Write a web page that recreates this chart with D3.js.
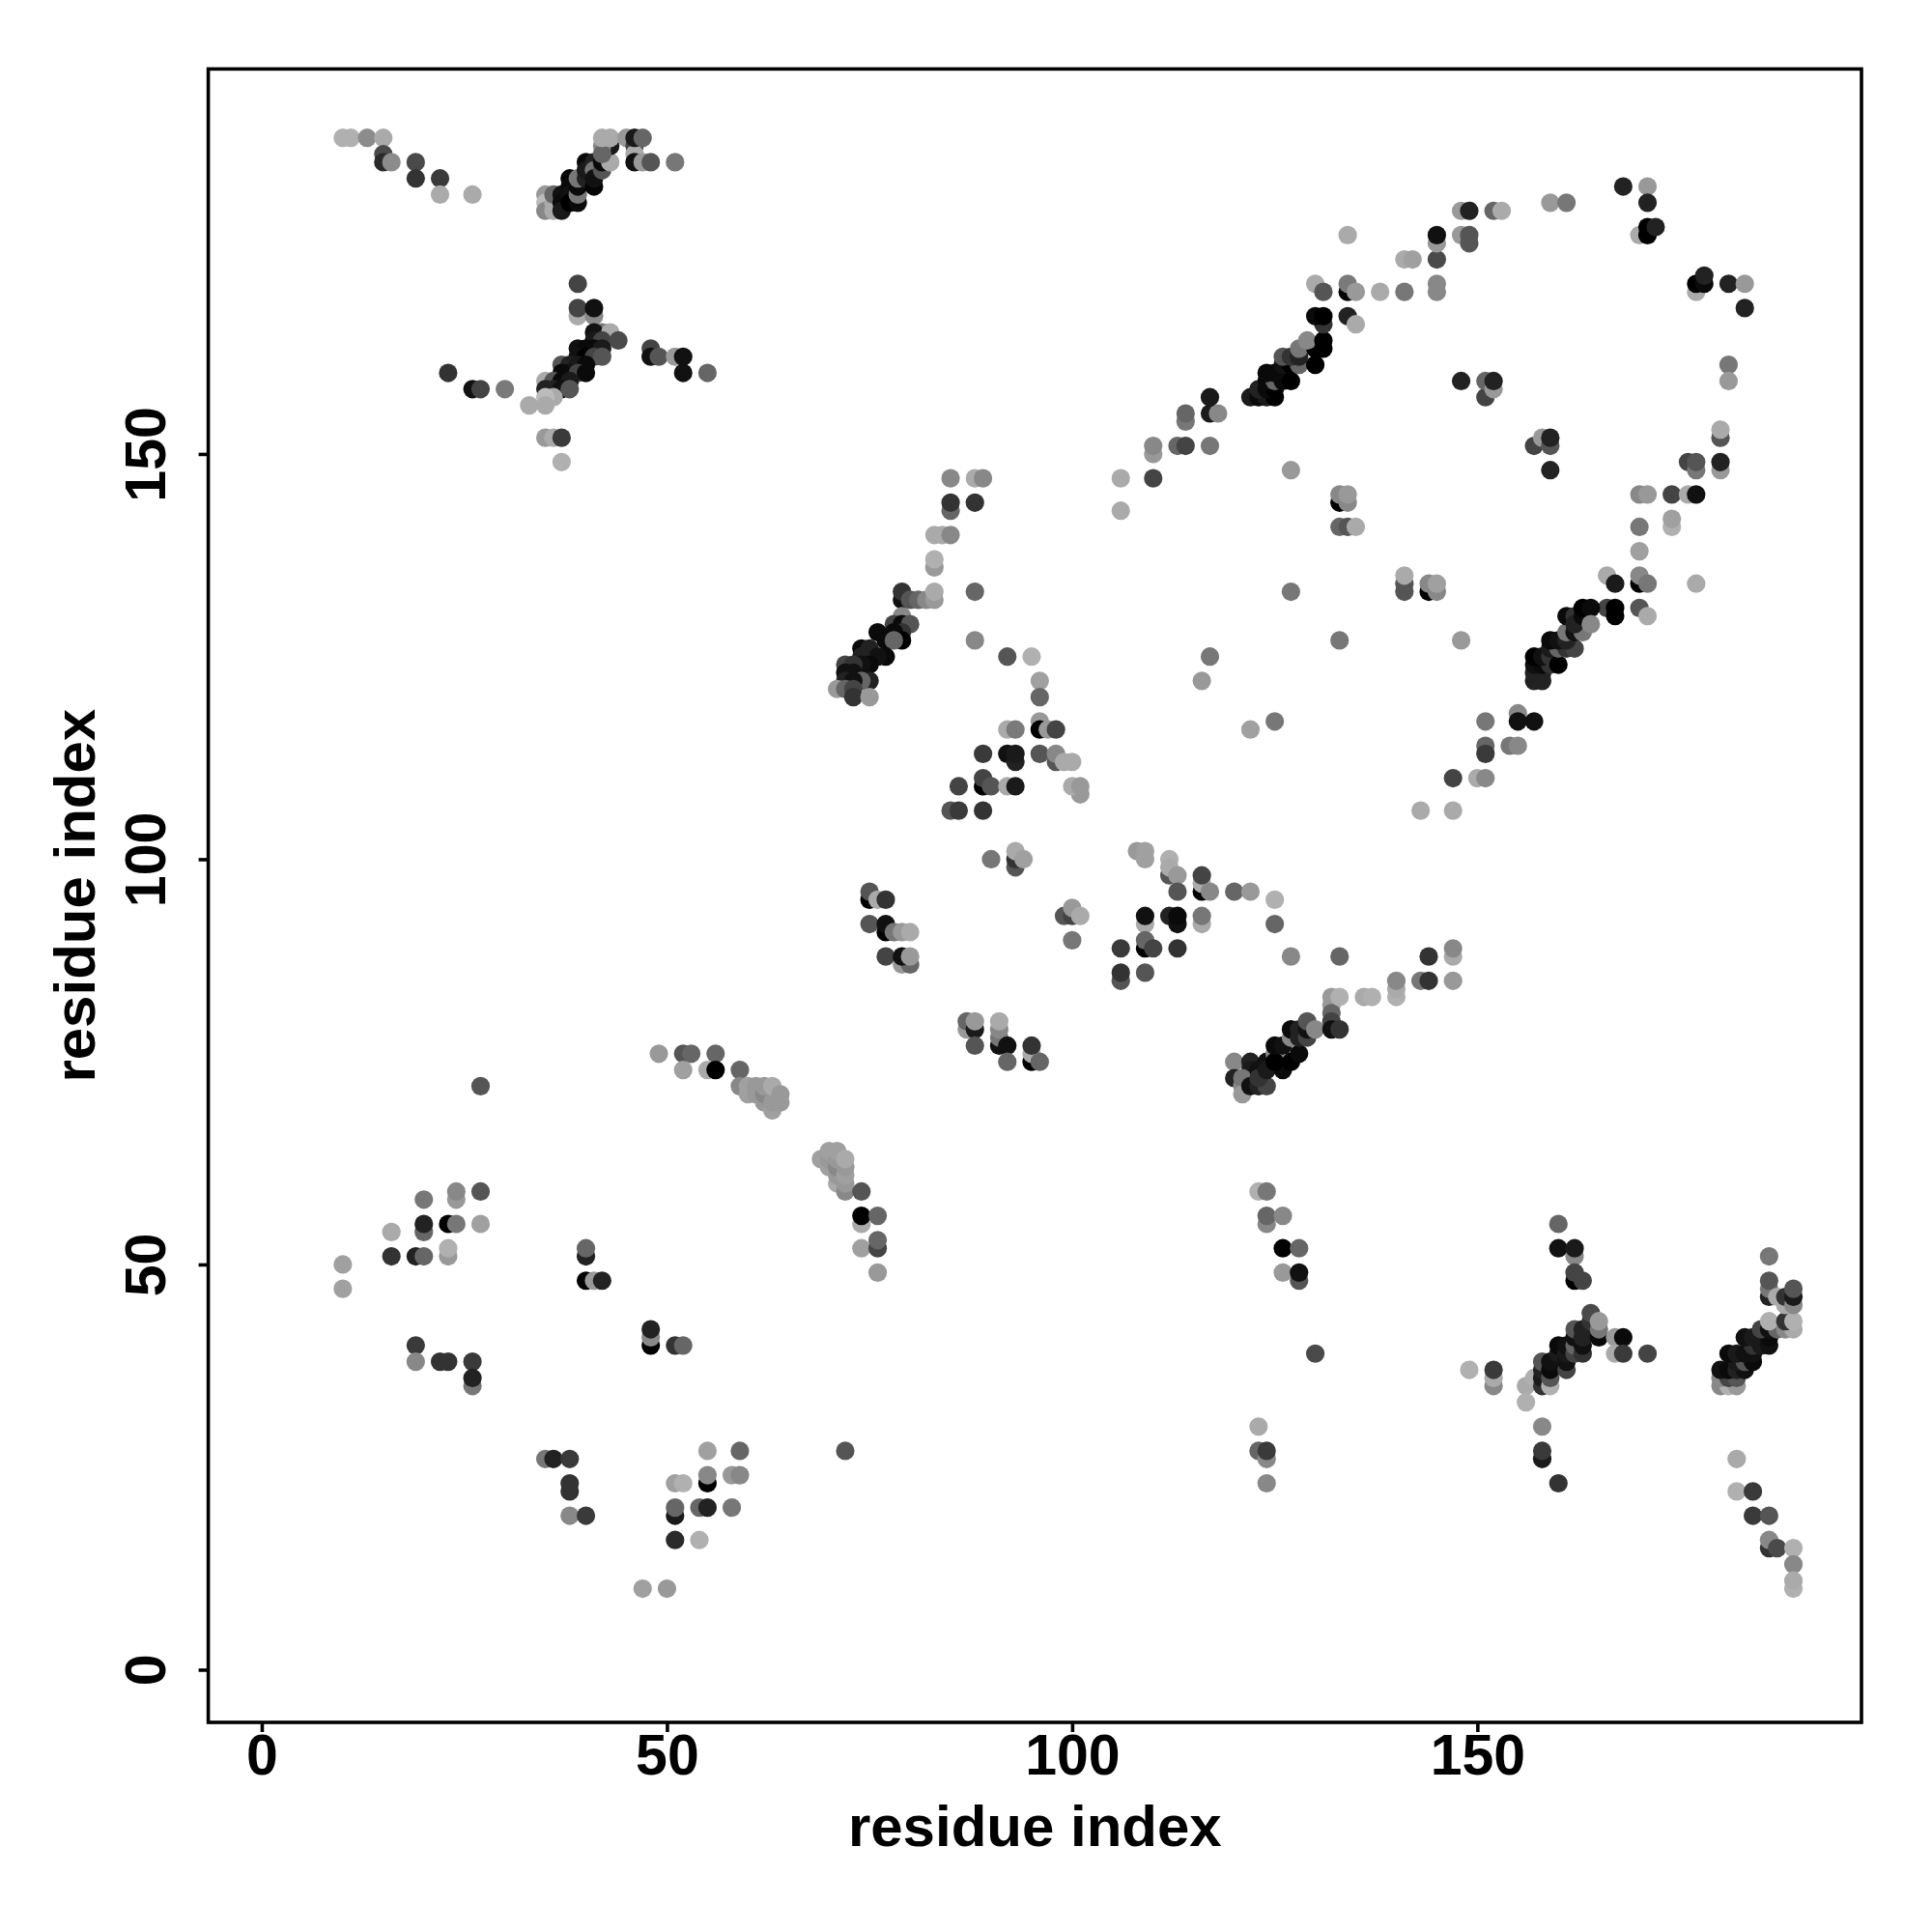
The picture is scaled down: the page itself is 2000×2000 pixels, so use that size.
<!DOCTYPE html>
<html><head><meta charset="utf-8">
<script src="https://cdn.jsdelivr.net/npm/d3@7"></script>
<style>html,body{margin:0;padding:0;background:#fff}</style></head>
<body><svg id="c" width="2000" height="2000"></svg>
<script>
// each contact: [residue x, residue y, grey level]
const topLeft=[[10,189,176],[11,189,176],[13,189,140],[15,189,170],[15,187,74],[15,186,42],[16,186,140],[19,186,74],[19,184,51],[22,184,58],[22,182,170],[26,182,170],
[35,182,153],[35,181,187],[35,180,136],[36,180,170],[36,181,170],[36,182,102],[37,182,17],[37,181,10],[37,180,26],[38,184,5],[38,183,10],[38,182,17],[38,181,0],[39,181,10],[39,182,119],[39,183,10],[39,184,119],[40,184,34],[40,186,10],[40,185,26],[41,183,5],[41,186,34],[41,185,119],[41,184,17],[42,185,85],[42,186,10],[43,186,170],[43,188,26],[42,188,136],[42,187,102],[42,189,170],[43,189,170],
[45,189,153],[46,188,68],[46,187,170],[46,186,17],[46,189,26],[47,189,102],[47,186,153],[48,186,85],[51,186,119]];
const midLeft=[[39,171,68],[39,167,170],[39,168,68],[41,167,136],[41,168,17],[42,165,119],[41,165,17],[43,165,170],[41,164,26],[42,164,68],[44,164,74],[39,163,17],[40,163,10],[41,163,10],[42,163,26],[39,162,17],[40,162,0],[41,162,68],[42,162,85],[37,161,85],[38,161,34],[39,161,26],[40,161,10],[38,160,17],[37,160,10],[39,160,68],[40,160,10],[35,159,170],[36,159,85],[37,159,10],[38,159,26],
[35,158,34],[36,158,34],[37,158,17],[38,158,85],[36,157,170],[35,157,187],[33,156,170],[35,156,170],[23,160,51],[26,158,17],[27,158,68],[30,158,122],[35,152,153],[36,152,170],[37,152,58],[37,149,176],[48,163,68],[48,162,17],[49,162,85],[51,162,153],[52,162,17],[52,160,17],[55,160,102]];
const midBand=[[85,147,136],[88,147,170],[89,147,136],[85,143,102],[85,144,51],[88,144,51],[83,140,170],[84,140,170],[85,140,136],[83,136,153],[83,137,176],[88,133,102],[79,132,17],[79,133,51],[80,132,85],[81,132,102],[82,132,136],[83,132,153],[83,133,170],
[79,130,136],[78,129,68],[79,129,10],[80,129,85],[79,128,51],[78,128,10],[76,128,10],[77,127,10],[79,127,0],[78,127,102],[74,126,10],[75,126,34],[77,125,10],[76,125,17],[74,125,34],[75,124,10],[74,124,17],[72,124,68],[73,124,51],[72,123,17],[73,123,17],[75,122,34],[74,122,102],[72,122,34],[73,122,17],[71,121,153],[72,121,102],[73,121,68],[73,120,51],[75,120,153],[88,127,136]];
const upperRight=[[106,147,170],[110,147,68],[106,143,170],[110,150,153],[110,151,136],[113,151,102],[114,151,68],[117,151,119],[114,154,119],[114,155,102],[117,155,26],[118,155,136],[117,157,26],[122,157,26],[123,157,10],[124,157,26],[125,157,0],[123,158,34],[124,158,10],[125,158,0],[124,159,10],[125,159,102],[126,159,10],[127,159,0],[124,160,10],[125,160,10],[126,161,17],[127,161,0],[128,161,102],[130,161,0],[126,162,85],[127,162,51],[128,162,34],[128,163,119],[130,163,0],[131,163,0],[129,164,136],[131,164,0],[131,166,51],[130,167,10],[131,167,0],[134,167,34],[135,166,170],[130,171,170],[131,170,85],[134,170,0],[134,171,122],[135,170,153],
[134,177,170],[138,170,170],[141,170,119],[145,171,136],[145,170,136],[141,174,170],[142,174,160],[145,174,74],[145,176,153],[145,177,17],[148,177,153],[149,176,85],[149,177,85],[148,180,153],[149,180,34],[152,180,102],[153,180,170],[159,181,153],[161,181,119],[168,183,34],[171,183,153],[171,181,34],[170,177,170],[171,177,0],[171,178,0],[172,178,34],
[177,170,170],[177,171,0],[178,171,10],[178,172,34],[181,171,34],[183,171,153],[183,168,34],[181,161,119],[181,159,153],[148,159,34],[151,157,68],[151,159,102],[152,158,153],[152,159,34],[157,151,68],[158,152,153],[159,151,85],[159,152,34],[159,148,34],[180,152,85],[180,153,170],[180,148,153],[180,149,34],[176,149,68],[177,148,119],[177,149,85],
[170,145,136],[171,145,153],[174,145,68],[176,145,170],[177,145,17],[170,141,119],[174,141,176],[174,142,160],[170,138,160],[166,135,170],[167,134,26],[170,134,0],[170,135,136],[171,134,119],[177,134,170],[166,131,68],[167,130,0],[167,131,0],[170,131,85],[171,130,170]];
const rightBand=[[157,122,34],[158,122,34],[157,123,34],[158,123,34],[157,124,17],[158,124,10],[159,124,51],[157,125,0],[158,125,17],[159,125,51],[160,124,0],[159,126,26],[160,126,102],[161,126,51],[162,126,68],[159,127,10],[160,127,17],[161,127,34],[161,128,119],[162,128,17],[163,128,119],[161,130,10],[162,130,51],[162,129,34],[163,130,10],[163,131,0],[164,131,10],[164,129,136],
[151,117,119],[155,118,136],[155,117,17],[157,117,17],[151,114,102],[151,113,58],[154,114,119],[155,114,136],[147,110,68],[150,110,170],[151,110,136],[143,106,170],[147,106,170]];
const innerRight=[[127,148,153],[127,133,119],[133,127,119],[148,127,153],[133,144,0],[134,144,136],[133,145,136],[134,145,153],[133,141,102],[134,141,85],[135,141,170],[141,133,85],[141,134,85],[141,135,170],[144,133,0],[145,133,136],[144,134,136],[145,134,160],[117,125,119],[116,122,153],[125,117,119],[122,116,160]];
const centre=[[92,125,85],[95,125,176],[96,122,160],[96,120,102],[96,117,153],[92,116,170],[93,116,122],[96,116,0],[97,116,153],[98,116,68],[89,113,58],[92,113,17],[93,112,34],[93,113,26],[96,113,85],[98,112,85],[98,113,136],[99,112,170],[100,112,170],[89,109,0],[89,110,68],[90,109,85],[86,109,68],[92,109,170],[93,109,26],[101,108,153],[100,109,170],[101,109,153],[85,106,85],[86,106,58],[89,106,51],
[90,100,119],[93,99,85],[93,100,51],[93,101,170],[94,100,160],[75,95,0],[75,96,85],[76,95,170],[77,95,51],[75,92,85],[77,91,0],[77,92,17],[78,91,119],[79,91,153],[80,91,170],[77,88,68],[79,87,153],[80,87,102],[79,88,17],[80,88,153],[99,93,85],[100,93,68],[100,94,153],[101,93,170],[100,90,119],
[108,101,153],[109,101,160],[109,100,160],[112,98,85],[112,100,176],[112,99,170],[113,98,153],[113,96,85],[116,96,0],[116,97,170],[116,98,68],[117,96,136],[120,96,102],[122,96,153],[125,95,176],[125,92,102],[127,88,136],[133,88,102],[109,92,170],[109,93,17],[112,93,34],[113,92,17],[113,93,10],[116,92,170],[116,93,119],[109,89,0],[109,90,102],[110,89,68],[106,89,58],[113,89,51],[106,85,85],[106,86,51],[109,86,85],
[87,79,153],[87,80,102],[88,79,26],[88,80,153],[88,77,85],[91,77,17],[91,78,119],[91,79,136],[91,80,170],[92,77,17],[92,75,102],[95,75,0],[95,76,170],[95,77,51],[96,75,102]];
const lowerBand=[[120,75,136],[120,73,34],[122,75,34],[122,74,26],[122,73,17],[121,72,136],[121,73,119],[121,71,153],[122,72,17],[123,72,34],[124,72,68],[123,74,17],[123,73,51],[124,75,17],[124,74,26],[125,76,136],[126,74,10],[125,75,0],[125,77,10],[126,77,17],[127,75,0],[128,76,10],[127,78,136],[127,79,10],[128,78,34],[128,79,34],[129,78,68],[129,79,17],[129,80,85],[130,79,136],[132,83,153],[132,82,153],[132,81,102],[132,80,68],[132,79,17],[133,79,51],[133,83,176],
[136,83,170],[137,83,176],[140,83,176],[140,84,170],[140,85,136],[143,85,119],[144,85,51],[144,88,51],[147,85,153],[147,88,170],[147,89,136]];
const arc=[[49,76,153],[52,76,85],[53,76,102],[56,76,102],[52,74,160],[55,74,170],[56,74,0],[59,74,102],[59,72,136],[60,71,160],[60,72,160],[61,71,153],[61,72,153],[62,70,153],[62,71,136],[62,72,153],[63,69,160],[63,70,153],[63,72,170],[64,70,153],[64,71,153],
[69,63,160],[70,62,160],[70,63,153],[70,64,160],[71,60,170],[71,61,153],[71,62,136],[71,63,153],[71,64,160],[72,59,136],[72,60,153],[72,61,160],[72,62,153],[72,63,170],[74,59,85],[74,55,170],[74,56,0],[76,56,102],[74,52,160],[76,52,68],[76,53,102],[76,49,153]];
const lowerLeft=[[27,72,85],[20,58,119],[24,58,153],[24,59,136],[27,59,85],[20,54,102],[20,55,34],[23,55,0],[24,55,119],[27,55,160],[16,54,170],[16,51,51],[19,51,34],[20,51,102],[23,51,153],[23,52,176],[10,50,160],[10,47,160],[40,51,34],[40,52,102],[40,48,0],[41,48,153],[42,48,34],[48,40,0],[48,41,136],[48,42,34],[51,40,51],[52,40,102],[19,40,58],[19,38,136],[22,38,51],[23,38,51],[26,38,58],[26,35,119],[26,36,34],
[35,26,119],[36,26,34],[38,26,58],[38,22,51],[38,23,51],[38,19,136],[40,19,58],[55,27,160],[59,27,102],[55,23,0],[55,24,136],[51,23,160],[52,23,176],[58,24,153],[59,24,136],[51,19,26],[51,20,102],[54,20,102],[55,20,34],[58,20,119],[51,16,42],[54,16,176],[47,10,160],[50,10,153],[72,27,85]];
const lowerMid=[[123,59,176],[124,59,119],[124,55,136],[124,56,102],[126,56,136],[126,52,0],[128,52,102],[126,49,153],[128,48,85],[128,49,17],[130,39,74],[123,30,170],[123,27,102],[124,26,136],[124,27,58],[124,23,136],
[160,55,102],[160,52,17],[162,51,136],[162,52,26],[162,48,0],[162,49,68],[163,48,68],[149,37,176],[152,35,136],[152,36,170],[152,37,58],[156,35,170],[157,36,176],[156,33,176],[158,30,136],[158,26,26],[158,27,58],[160,23,51]];
const lowerRight=[[158,35,51],[158,36,26],[158,37,34],[158,38,85],[159,35,176],[159,36,85],[159,37,10],[159,38,17],[160,39,26],[160,40,10],[161,37,68],[161,38,17],[161,39,26],[161,40,17],[162,39,68],[162,40,102],[162,41,17],[162,42,85],[163,39,51],[163,40,17],[163,41,34],[163,42,34],[164,42,34],[164,43,51],[164,44,74],[165,41,10],[165,42,119],[165,43,153],[167,41,153],[168,41,10],[167,39,170],[168,39,58],[171,39,68],
[180,35,136],[181,35,176],[182,35,153],[180,36,136],[181,36,68],[182,36,85],[180,37,17],[181,37,10],[182,37,34],[183,37,17],[182,38,26],[183,38,85],[184,38,10],[181,39,10],[182,39,26],[183,39,17],[184,39,17],[184,40,51],[185,40,26],[183,41,17],[184,41,26],[186,40,17],[186,41,10],[185,42,68],[186,42,17],[187,42,102],[188,42,136],[189,42,170],[186,43,176],[188,43,51],[189,43,176],
[186,51,119],[186,46,34],[186,47,119],[186,48,85],[187,46,170],[188,45,170],[188,46,51],[189,45,136],[189,46,26],[189,47,85],[182,26,170],[182,22,176],[184,22,58],[184,19,58],[186,19,85],[186,15,51],[186,16,136],[187,15,74],[189,15,176],[189,13,136],[189,10,176],[189,11,170]];
const contacts=[].concat(topLeft,midLeft,midBand,upperRight,rightBand,innerRight,centre,lowerBand,arc,lowerLeft,lowerMid,lowerRight);
const tickValues=[0,50,100,150];
const axisTitle="residue index";

const plotLeft=215.6,plotRight=1927,plotTop=71.4,plotBottom=1783;
const x=d3.scaleLinear().domain([-6.6,197.4]).range([plotLeft,plotRight]);
const y=d3.scaleLinear().domain([-6.5,197.5]).range([plotBottom,plotTop]);
const svg=d3.select("#c").style("font-family","'Liberation Sans',Arimo,sans-serif").style("font-weight","bold");

svg.append("g").selectAll("circle").data(contacts).join("circle")
  .attr("cx",d=>x(d[0])).attr("cy",d=>y(d[1])).attr("r",9.6)
  .attr("fill",d=>d3.rgb(d[2],d[2],d[2]).formatHex());

svg.append("rect").attr("x",plotLeft).attr("y",plotTop).attr("width",plotRight-plotLeft).attr("height",plotBottom-plotTop)
  .attr("fill","none").attr("stroke","#000").attr("stroke-width",3.6);

const gx=svg.append("g").attr("transform",`translate(0,${plotBottom})`)
  .call(d3.axisBottom(x).tickValues(tickValues).tickSize(10).tickPadding(5).tickFormat(d3.format("d")));
const gy=svg.append("g").attr("transform",`translate(${plotLeft},0)`)
  .call(d3.axisLeft(y).tickValues(tickValues).tickSize(10).tickPadding(0).tickFormat(d3.format("d")));
[gx,gy].forEach(g=>{
  g.select(".domain").remove();
  g.selectAll(".tick line").attr("stroke","#000").attr("stroke-width",3.6);
  g.selectAll("text").attr("fill","#000").style("font-size","59px").style("font-family","'Liberation Sans',sans-serif").style("font-weight","bold");
});
gx.selectAll("text").attr("y",null).attr("dy",null).attr("transform","translate(0,54)");
gy.selectAll("text").attr("x",null).attr("dy",null).attr("text-anchor","middle").attr("transform","translate(-45,0) rotate(-90)");
svg.append("text").attr("x",(plotLeft+plotRight)/2).attr("y",1910.5).attr("text-anchor","middle").style("font-size","60px").text(axisTitle);
svg.append("text").attr("transform",`translate(97.5,${(plotTop+plotBottom)/2}) rotate(-90)`).attr("text-anchor","middle").style("font-size","60px").text(axisTitle);
</script></body></html>
